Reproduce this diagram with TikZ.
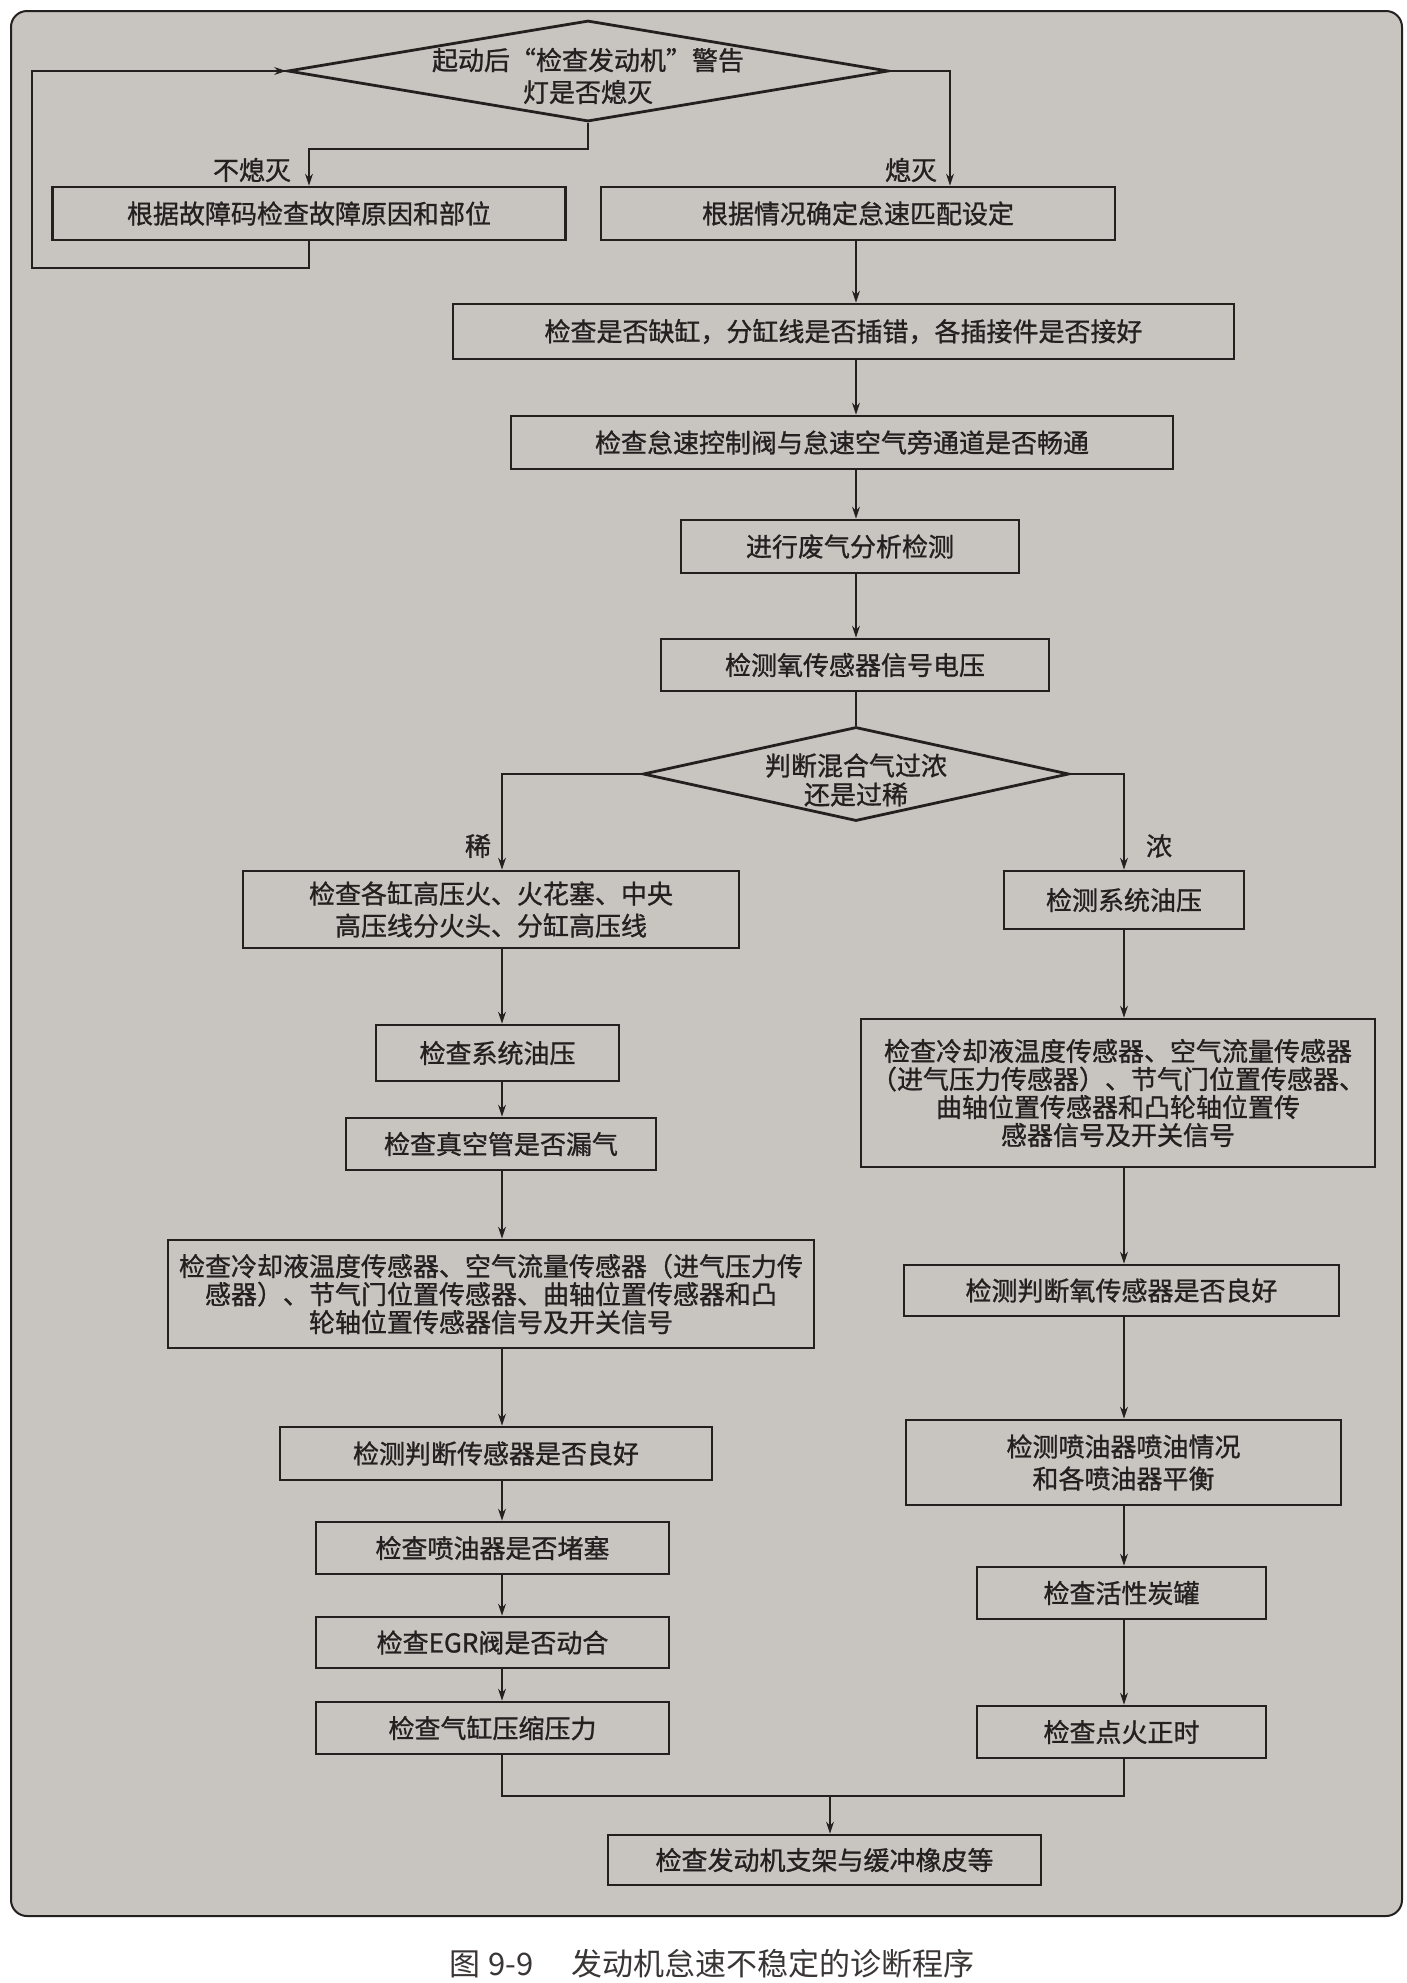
\documentclass[tikz,border=0pt]{standalone}
\usepackage{fontspec}
\newfontfamily\cjk[FakeBold=1.0]{Noto Sans CJK SC}
\newfontfamily\cjkcap{Noto Sans CJK SC}
\usetikzlibrary{shapes.geometric,arrows.meta}
\definecolor{bg}{RGB}{200,197,193}
\definecolor{ink}{RGB}{36,32,32}
\tikzset{
  sz/.style 2 args={minimum width=#1*0.5pt, minimum height=#2*0.5pt},
  box/.style={draw=ink, line width=1.4pt, inner sep=0pt, align=center, text=ink,
              font=\cjk\fontsize{13}{16}\selectfont},
  tallbox/.style={box, font=\cjk\fontsize{13}{14}\selectfont},
  dia/.style={draw=ink, line width=1.4pt, diamond, inner sep=0pt, aspect=4},
  txt/.style={align=center, text=ink, inner sep=0pt, font=\cjk\fontsize{13}{16}\selectfont},
  lbl/.style={text=ink, inner sep=0pt, font=\cjk\fontsize{13}{15}\selectfont},
  ln/.style={draw=ink, line width=0.6pt},
  arr/.style={ln, -{Stealth[length=6pt,width=4pt]}}
}
\begin{document}
\begin{tikzpicture}[x=0.5pt,y=-0.5pt]
\useasboundingbox (0,0) rectangle (1407,1983);
\fill[white] (0,0) rectangle (1407,1983);
\draw[draw=ink, line width=1pt, fill=bg, rounded corners=8] (11,11) rectangle (1402,1916);

% column coordinates
\coordinate (mx) at (856,0);
\coordinate (lx) at (502,0);
\coordinate (rx) at (1124,0);

% top decision
\node[dia, sz={601}{101}] (d1) at (588,71) {};
\node[txt] (d1t) at (588,76) {起动后“检查发动机”警告\\灯是否熄灭};

\node[box, sz={513}{53}] (A) at (309,213.5) {根据故障码检查故障原因和部位};
\node[box, sz={514}{53}] (B) at (858,213.5) {根据情况确定怠速匹配设定};
\node[box, sz={781}{55}] (C) at (843.5,331.5) {检查是否缺缸，分缸线是否插错，各插接件是否接好};
\node[box, sz={662}{53}] (D) at (842,442.5) {检查怠速控制阀与怠速空气旁通道是否畅通};
\node[box, sz={338}{53}] (E) at (850,546.5) {进行废气分析检测};
\node[box, sz={388}{52}] (F) at (855,665) {检测氧传感器信号电压};

\node[dia, sz={426}{94}] (d2) at (856,774) {};
\node[txt, font=\cjk\fontsize{13}{14.5}\selectfont] (d2t) at (856,780) {判断混合气过浓\\还是过稀};

% left branch
\node[box, sz={496}{77}] (G) at (491,909.5) {检查各缸高压火、火花塞、中央\\高压线分火头、分缸高压线};
\node[box, sz={243}{56}] (I) at (497.5,1053) {检查系统油压};
\node[box, sz={310}{52}] (J) at (501,1144) {检查真空管是否漏气};
\node[tallbox, sz={646}{108}] (K) at (491,1294) {检查冷却液温度传感器、空气流量传感器（进气压力传\\感器）、节气门位置传感器、曲轴位置传感器和凸\\轮轴位置传感器信号及开关信号};
\node[box, sz={432}{53}] (N) at (496,1453.5) {检测判断传感器是否良好};
\node[box, sz={353}{52}] (O) at (492.5,1548) {检查喷油器是否堵塞};
\node[box, sz={353}{51}] (P) at (492.5,1642.5) {检查EGR阀是否动合};
\node[box, sz={353}{52}] (Q) at (492.5,1728) {检查气缸压缩压力};

% right branch
\node[box, sz={240}{58}] (H) at (1124,900) {检测系统油压};
\node[tallbox, sz={514}{148}] (L) at (1118,1093) {检查冷却液温度传感器、空气流量传感器\\（进气压力传感器）、节气门位置传感器、\\曲轴位置传感器和凸轮轴位置传\\感器信号及开关信号};
\node[box, sz={435}{51}] (M) at (1121.5,1290.5) {检测判断氧传感器是否良好};
\node[box, sz={435}{85}] (R) at (1123.5,1462.5) {检测喷油器喷油情况\\和各喷油器平衡};
\node[box, sz={289}{52}] (S) at (1121.5,1593) {检查活性炭罐};
\node[box, sz={289}{52}] (T) at (1121.5,1732) {检查点火正时};

\node[box, sz={433}{50}] (U) at (824.5,1860) {检查发动机支架与缓冲橡皮等};

% labels
\node[lbl] (l1) at (252,170) {不熄灭};
\node[lbl] (l2) at (911,170) {熄灭};
\node[lbl] (l3) at (478,846) {稀};
\node[lbl] (l4) at (1159,846) {浓};

% connectors: top
\coordinate (c0) at (588,149);
\coordinate (c1) at (309,149);
\draw[arr] (d1.south) -- (c0) -- (c1) -- (A.north);
\coordinate (p1) at (309,268);
\coordinate (p2) at (32,268);
\coordinate (p3) at (32,71);
\draw[arr] (A.south) -- (p1) -- (p2) -- (p3) -- (d1.west);
\coordinate (r1) at (950,71);
\draw[arr] (d1.east) -- (r1) -- (r1 |- B.north);

\draw[arr] (mx |- B.south) -- (mx |- C.north);
\draw[arr] (mx |- C.south) -- (mx |- D.north);
\draw[arr] (mx |- D.south) -- (mx |- E.north);
\draw[arr] (mx |- E.south) -- (mx |- F.north);
\draw[ln] (mx |- F.south) -- (d2.north);

% second decision
\coordinate (b1) at (502,774);
\coordinate (b2) at (1124,774);
\draw[arr] (d2.west) -- (b1) -- (b1 |- G.north);
\draw[arr] (d2.east) -- (b2) -- (b2 |- H.north);

% left column
\draw[arr] (lx |- G.south) -- (lx |- I.north);
\draw[arr] (lx |- I.south) -- (lx |- J.north);
\draw[arr] (lx |- J.south) -- (lx |- K.north);
\draw[arr] (lx |- K.south) -- (lx |- N.north);
\draw[arr] (lx |- N.south) -- (lx |- O.north);
\draw[arr] (lx |- O.south) -- (lx |- P.north);
\draw[arr] (lx |- P.south) -- (lx |- Q.north);

% right column
\draw[arr] (rx |- H.south) -- (rx |- L.north);
\draw[arr] (rx |- L.south) -- (rx |- M.north);
\draw[arr] (rx |- M.south) -- (rx |- R.north);
\draw[arr] (rx |- R.south) -- (rx |- S.north);
\draw[arr] (rx |- S.south) -- (rx |- T.north);

% merge
\coordinate (m1) at (502,1796);
\coordinate (m2) at (1124,1796);
\coordinate (m3) at (830,1796);
\draw[ln] (lx |- Q.south) -- (m1) -- (m2) -- (rx |- T.south);
\draw[arr] (m3) -- (m3 |- U.north);

% caption
\node[text=ink!90, inner sep=0pt, font=\cjkcap\fontsize{15.5}{17}\selectfont] (cap) at (712,1964) {图\hspace{0.25em}9-9\hspace{1.2em}发动机怠速不稳定的诊断程序};
\end{tikzpicture}
\end{document}
